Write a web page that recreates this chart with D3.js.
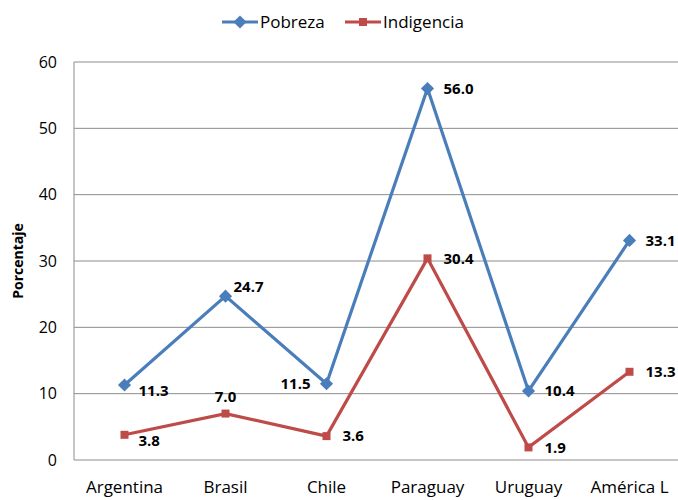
<!DOCTYPE html>
<html>
<head>
<meta charset="utf-8">
<script src="https://cdn.jsdelivr.net/npm/d3@7"></script>
<style>
  html, body { margin: 0; padding: 0; background: #fff; }
  svg { display: block; font-family: "Open Sans", sans-serif; }
</style>
</head>
<body>
<div id="chart"></div>
<script>
const categories = ["Argentina", "Brasil", "Chile", "Paraguay", "Uruguay", "América L"];
const pobreza = [11.3, 24.7, 11.5, 56.0, 10.4, 33.1];
const indigencia = [3.8, 7.0, 3.6, 30.4, 1.9, 13.3];
const yTicks = [0, 10, 20, 30, 40, 50, 60];

// where each data label sits relative to its point
const pobrezaLabelPos = ["belowRight", "aboveRight", "left", "right", "right", "right"];
const indigenciaLabelPos = ["belowRight", "above", "right", "right", "right", "right"];

const width = 678, height = 500;
const margin = { top: 62, right: -2, bottom: 40, left: 74 };
const innerW = width - margin.left - margin.right;
const innerH = height - margin.top - margin.bottom;
const font = '"Open Sans", sans-serif';

const svg = d3.select("#chart").append("svg")
  .attr("width", width)
  .attr("height", height);

const g = svg.append("g")
  .attr("transform", `translate(${margin.left},${margin.top})`);

const x = d3.scaleBand().domain(categories).range([0, innerW]);
const y = d3.scaleLinear().domain([0, 60]).range([innerH, 0]);
const cx = d => x(d) + x.bandwidth() / 2;

// grid lines
g.selectAll(".grid").data(yTicks).enter().append("line")
  .attr("x1", 0).attr("x2", innerW)
  .attr("y1", d => y(d)).attr("y2", d => y(d))
  .attr("stroke", "#8c8c8c").attr("stroke-width", 1);

// left axis line
g.append("line")
  .attr("x1", 0).attr("x2", 0).attr("y1", 0).attr("y2", innerH)
  .attr("stroke", "#8c8c8c");

// y axis
const yAxis = g.append("g").call(d3.axisLeft(y).tickValues(yTicks).tickSize(0).tickPadding(17));
yAxis.select(".domain").remove();
yAxis.selectAll("text").style("font-size", "16px").attr("fill", "#000")
  .style("font-family", font);

// x axis
const xAxis = g.append("g").attr("transform", `translate(0,${innerH})`)
  .call(d3.axisBottom(x).tickSize(0).tickPadding(21));
xAxis.select(".domain").remove();
xAxis.selectAll("text").style("font-size", "17px").attr("fill", "#000")
  .style("font-family", font);

// y title
svg.append("text")
  .attr("transform", `translate(23,${margin.top + innerH / 2}) rotate(-90)`)
  .attr("text-anchor", "middle")
  .style("font-size", "14px").style("font-weight", "bold")
  .text("Porcentaje");

const blue = "#4a7ebb", red = "#be4b48";

const line = d3.line().x((d, i) => cx(categories[i])).y(d => y(d));

g.append("path").datum(pobreza).attr("d", line)
  .attr("fill", "none").attr("stroke", blue).attr("stroke-width", 3.2);
g.append("path").datum(indigencia).attr("d", line)
  .attr("fill", "none").attr("stroke", red).attr("stroke-width", 3.2);

const diamond = d3.symbol().type(d3.symbolDiamond2).size(110);
g.selectAll(".pm").data(pobreza).enter().append("path")
  .attr("d", diamond)
  .attr("transform", (d, i) => `translate(${cx(categories[i])},${y(d)})`)
  .attr("fill", blue);

g.selectAll(".im").data(indigencia).enter().append("rect")
  .attr("x", (d, i) => cx(categories[i]) - 4)
  .attr("y", d => y(d) - 4)
  .attr("width", 8).attr("height", 8)
  .attr("fill", red);

const offsets = {
  right: [16, 0, "start"],
  left: [-16, 0, "end"],
  above: [0, -17, "middle"],
  aboveRight: [8, -9, "start"],
  belowRight: [14, 6, "start"]
};

function labels(values, pos) {
  g.selectAll(null).data(values).enter().append("text")
    .attr("x", (d, i) => cx(categories[i]) + offsets[pos[i]][0])
    .attr("y", (d, i) => y(d) + offsets[pos[i]][1])
    .attr("dy", "0.35em")
    .attr("text-anchor", (d, i) => offsets[pos[i]][2])
    .style("font-size", "15px").style("font-weight", "bold")
    .text(d => d.toFixed(1));
}
labels(pobreza, pobrezaLabelPos);
labels(indigencia, indigenciaLabelPos);

// legend
const legend = svg.append("g").attr("transform", "translate(222,22)");
legend.append("line").attr("x1", 0).attr("x2", 36).attr("stroke", blue).attr("stroke-width", 3.2);
legend.append("path").attr("d", diamond).attr("transform", "translate(18,0)").attr("fill", blue);
legend.append("text").attr("x", 38).attr("dy", "0.35em").style("font-size", "17px").text("Pobreza");
legend.append("line").attr("x1", 123).attr("x2", 159).attr("stroke", red).attr("stroke-width", 3.2);
legend.append("rect").attr("x", 137).attr("y", -4).attr("width", 8).attr("height", 8).attr("fill", red);
legend.append("text").attr("x", 161).attr("dy", "0.35em").style("font-size", "17px").text("Indigencia");
</script>
</body>
</html>
